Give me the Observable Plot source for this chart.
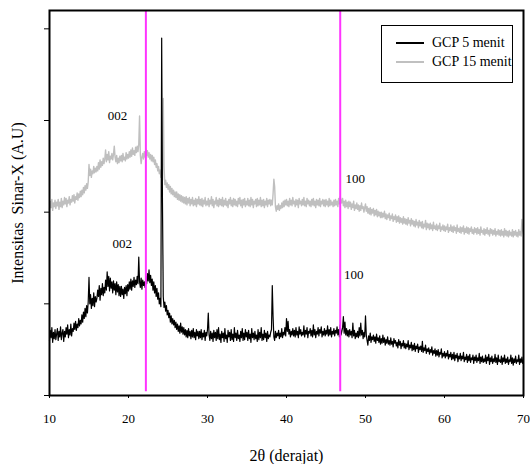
<!DOCTYPE html>
<html>
<head>
<meta charset="utf-8">
<script src="https://cdn.jsdelivr.net/npm/d3@7"></script>
<script src="https://cdn.jsdelivr.net/npm/@observablehq/plot@0.6"></script>
<style>
  html, body { margin: 0; padding: 0; background: #fff; font-family: "Liberation Serif", "Times New Roman", Times, serif; }
  #wrap { position: relative; width: 530px; height: 464px; }
  svg text, svg { font-family: "Liberation Serif", "Times New Roman", Times, serif !important; }
  #legend { position: absolute; left: 381px; top: 25px; width: 130px; height: 56px; border: 1px solid #000; background: #fff; }
  .row { position: absolute; left: 0; height: 18px; display: flex; align-items: center; font-size: 14px; color: #000; white-space: nowrap; }
  .sw { display: inline-block; width: 28px; height: 0; margin-left: 14px; margin-right: 8px; }
</style>
</head>
<body>
<div id="wrap">
  <div id="chart"></div>
  <div id="legend">
    <div class="row" style="top:8px"><span class="sw" style="border-top:2px solid #000"></span>GCP 5 menit</div>
    <div class="row" style="top:27px"><span class="sw" style="border-top:2px solid #c0c0c0"></span>GCP 15 menit</div>
  </div>
</div>
<script>
// 2θ from 10 to 70 degrees, sampled every 0.1 degree
const angleStart = 10;
const angleStep = 0.1;

// GCP 5 menit (black), intensity in arbitrary units
const gcp5 = [
  0.60,0.71,0.63,0.74,0.58,0.69,0.62,0.72,0.61,0.67,
  0.73,0.60,0.70,0.64,0.75,0.61,0.68,0.72,0.59,0.70,
  0.64,0.74,0.67,0.77,0.63,0.72,0.66,0.78,0.65,0.73,
  0.70,0.79,0.72,0.81,0.71,0.78,0.74,0.84,0.76,0.82,
  0.78,0.88,0.80,0.91,0.84,0.95,0.86,0.98,0.90,1.02,
  1.29,1.00,1.10,0.95,1.06,0.98,1.12,0.97,1.08,1.02,
  1.06,1.15,1.08,1.20,1.04,1.17,1.10,1.22,1.09,1.18,
  1.12,1.26,1.15,1.35,1.19,1.30,1.14,1.28,1.17,1.24,
  1.12,1.25,1.15,1.22,1.10,1.24,1.13,1.21,1.09,1.19,
  1.08,1.19,1.10,1.16,1.06,1.18,1.11,1.20,1.09,1.21,
  1.14,1.24,1.16,1.27,1.15,1.25,1.19,1.29,1.18,1.26,
  1.21,1.30,1.22,1.51,1.24,1.18,1.28,1.16,1.26,1.20,
  1.24,1.18,1.30,1.22,1.33,1.25,1.37,1.23,1.31,1.20,
  1.27,1.15,1.24,1.12,1.20,1.08,1.17,1.05,1.12,1.00,
  1.06,0.97,3.90,2.10,1.08,0.96,1.02,0.92,0.98,0.88,
  0.93,0.85,0.90,0.80,0.87,0.78,0.84,0.77,0.82,0.74,
  0.80,0.72,0.78,0.70,0.76,0.68,0.79,0.69,0.75,0.67,
  0.74,0.66,0.72,0.64,0.71,0.63,0.73,0.65,0.70,0.62,
  0.71,0.64,0.73,0.63,0.69,0.61,0.72,0.65,0.70,0.62,
  0.70,0.63,0.72,0.61,0.68,0.64,0.71,0.60,0.69,0.65,
  0.72,0.90,0.66,0.60,0.70,0.62,0.68,0.59,0.71,0.63,
  0.69,0.60,0.72,0.62,0.74,0.61,0.67,0.58,0.70,0.63,
  0.68,0.59,0.73,0.62,0.66,0.58,0.71,0.64,0.69,0.60,
  0.72,0.61,0.67,0.59,0.74,0.63,0.68,0.60,0.71,0.62,
  0.66,0.59,0.70,0.63,0.73,0.60,0.68,0.61,0.72,0.64,
  0.69,0.60,0.71,0.62,0.67,0.58,0.73,0.63,0.68,0.61,
  0.70,0.62,0.66,0.59,0.72,0.61,0.69,0.63,0.74,0.60,
  0.67,0.61,0.71,0.63,0.68,0.59,0.70,0.62,0.66,0.64,
  0.69,0.72,1.20,0.86,0.64,0.60,0.70,0.63,0.68,0.65,
  0.71,0.62,0.68,0.64,0.73,0.63,0.69,0.66,0.74,0.65,
  0.84,0.70,0.81,0.67,0.72,0.64,0.70,0.66,0.73,0.65,
  0.71,0.64,0.74,0.66,0.70,0.63,0.75,0.67,0.72,0.65,
  0.69,0.66,0.76,0.64,0.71,0.67,0.74,0.63,0.70,0.68,
  0.73,0.65,0.71,0.64,0.77,0.66,0.72,0.63,0.70,0.67,
  0.74,0.65,0.72,0.68,0.75,0.64,0.70,0.66,0.73,0.65,
  0.71,0.67,0.76,0.65,0.72,0.66,0.74,0.64,0.70,0.67,
  0.73,0.65,0.71,0.68,0.75,0.66,0.72,0.64,0.77,0.66,
  0.70,0.74,0.86,0.68,0.80,0.66,0.73,0.65,0.71,0.64,
  0.72,0.66,0.70,0.63,0.79,0.65,0.71,0.62,0.68,0.64,
  0.70,0.63,0.74,0.65,0.79,0.66,0.71,0.62,0.69,0.64,
  0.87,0.66,0.60,0.55,0.65,0.60,0.68,0.58,0.64,0.61,
  0.66,0.59,0.64,0.57,0.67,0.60,0.63,0.58,0.65,0.56,
  0.62,0.57,0.66,0.58,0.63,0.55,0.61,0.57,0.64,0.56,
  0.60,0.55,0.63,0.56,0.59,0.53,0.62,0.57,0.60,0.54,
  0.58,0.52,0.61,0.55,0.59,0.51,0.57,0.54,0.60,0.52,
  0.57,0.51,0.56,0.53,0.60,0.50,0.55,0.52,0.58,0.49,
  0.55,0.50,0.57,0.48,0.54,0.51,0.56,0.47,0.53,0.50,
  0.54,0.48,0.59,0.47,0.52,0.49,0.55,0.46,0.51,0.48,
  0.52,0.45,0.50,0.47,0.53,0.44,0.49,0.46,0.51,0.43,
  0.49,0.44,0.50,0.42,0.47,0.45,0.51,0.41,0.46,0.43,
  0.48,0.41,0.46,0.43,0.49,0.40,0.45,0.42,0.47,0.39,
  0.45,0.40,0.47,0.38,0.44,0.41,0.46,0.37,0.43,0.40,
  0.46,0.38,0.43,0.40,0.47,0.37,0.42,0.39,0.45,0.36,
  0.43,0.38,0.45,0.36,0.41,0.39,0.44,0.35,0.42,0.38,
  0.44,0.36,0.41,0.38,0.46,0.35,0.42,0.37,0.43,0.36,
  0.40,0.37,0.44,0.35,0.42,0.38,0.45,0.34,0.41,0.37,
  0.43,0.35,0.40,0.37,0.45,0.36,0.41,0.34,0.44,0.37,
  0.39,0.36,0.43,0.34,0.41,0.37,0.44,0.35,0.40,0.36,
  0.42,0.34,0.39,0.37,0.44,0.35,0.41,0.33,0.40,0.36,
  0.43,0.35,0.39,0.37,0.44,0.34,0.40,0.36,0.42,0.35,
  0.39
];

// GCP 15 menit (grey)
const gcp15 = [
  2.03,2.12,2.05,2.14,2.02,2.10,2.06,2.13,2.04,2.11,
  2.07,2.14,2.03,2.11,2.06,2.15,2.05,2.12,2.08,2.16,
  2.09,2.15,2.06,2.13,2.10,2.17,2.08,2.14,2.11,2.18,
  2.12,2.19,2.10,2.17,2.14,2.21,2.13,2.20,2.16,2.23,
  2.17,2.24,2.19,2.27,2.21,2.29,2.24,2.31,2.26,2.33,
  2.52,2.40,2.47,2.38,2.45,2.42,2.50,2.43,2.48,2.44,
  2.50,2.45,2.54,2.47,2.57,2.49,2.55,2.51,2.59,2.53,
  2.58,2.68,2.55,2.63,2.57,2.66,2.54,2.61,2.58,2.64,
  2.57,2.63,2.72,2.60,2.55,2.62,2.53,2.59,2.54,2.61,
  2.56,2.62,2.55,2.64,2.57,2.60,2.56,2.65,2.58,2.63,
  2.59,2.66,2.60,2.68,2.61,2.70,2.63,2.67,2.62,2.71,
  2.65,2.72,2.66,2.74,3.05,2.62,2.53,2.60,2.64,2.58,
  2.66,2.60,2.69,2.62,2.67,2.60,2.65,2.58,2.63,2.56,
  2.62,2.55,2.60,2.52,2.57,2.49,2.53,2.45,2.50,2.42,
  2.46,2.38,2.42,2.35,3.24,2.50,2.30,2.35,2.27,2.32,
  2.25,2.30,2.22,2.28,2.20,2.26,2.19,2.24,2.17,2.22,
  2.16,2.22,2.14,2.20,2.13,2.19,2.12,2.18,2.11,2.17,
  2.10,2.16,2.09,2.17,2.08,2.15,2.10,2.16,2.07,2.14,
  2.09,2.16,2.07,2.13,2.08,2.15,2.06,2.14,2.09,2.17,
  2.08,2.14,2.07,2.15,2.06,2.13,2.09,2.16,2.07,2.12,
  2.08,2.15,2.06,2.13,2.09,2.17,2.07,2.14,2.05,2.12,
  2.09,2.16,2.07,2.13,2.06,2.15,2.08,2.14,2.07,2.16,
  2.06,2.13,2.08,2.15,2.07,2.12,2.05,2.14,2.09,2.16,
  2.07,2.13,2.06,2.15,2.08,2.14,2.07,2.12,2.06,2.15,
  2.09,2.16,2.07,2.13,2.05,2.14,2.08,2.15,2.06,2.12,
  2.08,2.15,2.07,2.13,2.06,2.16,2.08,2.14,2.05,2.12,
  2.09,2.14,2.06,2.15,2.07,2.13,2.08,2.16,2.06,2.13,
  2.07,2.14,2.05,2.12,2.08,2.15,2.06,2.13,2.09,2.14,
  2.07,2.13,2.08,2.20,2.36,2.28,2.06,2.01,2.07,2.03,
  2.09,2.02,2.07,2.04,2.10,2.05,2.12,2.06,2.13,2.08,
  2.14,2.07,2.12,2.06,2.15,2.08,2.13,2.07,2.16,2.09,
  2.12,2.06,2.14,2.08,2.13,2.05,2.15,2.09,2.12,2.07,
  2.14,2.08,2.16,2.07,2.12,2.06,2.15,2.09,2.13,2.07,
  2.12,2.06,2.14,2.08,2.15,2.07,2.12,2.05,2.14,2.08,
  2.13,2.07,2.15,2.06,2.12,2.09,2.14,2.07,2.13,2.06,
  2.14,2.08,2.12,2.06,2.15,2.07,2.13,2.08,2.11,2.06,
  2.13,2.07,2.14,2.08,2.12,2.06,2.15,2.09,2.17,2.13,
  2.10,2.15,2.07,2.12,2.05,2.13,2.06,2.11,2.04,2.12,
  2.06,2.11,2.03,2.09,2.05,2.12,2.02,2.08,2.04,2.10,
  2.03,2.08,2.01,2.07,2.02,2.10,2.04,2.06,2.00,2.05,
  2.09,2.01,2.06,1.99,2.04,1.98,2.05,1.97,2.03,1.99,
  2.04,1.96,2.02,1.97,2.03,1.95,2.01,1.96,2.00,1.94,
  2.00,1.94,1.99,1.95,2.01,1.93,1.98,1.92,1.97,1.94,
  1.99,1.91,1.96,1.93,1.98,1.90,1.95,1.92,1.97,1.89,
  1.95,1.90,1.96,1.88,1.94,1.89,1.93,1.87,1.95,1.88,
  1.93,1.87,1.92,1.86,1.94,1.88,1.91,1.85,1.93,1.87,
  1.91,1.85,1.90,1.84,1.92,1.86,1.89,1.83,1.91,1.85,
  1.89,1.83,1.90,1.82,1.87,1.84,1.91,1.81,1.88,1.83,
  1.87,1.81,1.88,1.82,1.86,1.80,1.89,1.82,1.85,1.81,
  1.87,1.80,1.85,1.82,1.88,1.79,1.84,1.81,1.86,1.80,
  1.85,1.79,1.84,1.81,1.87,1.78,1.83,1.80,1.86,1.79,
  1.84,1.78,1.85,1.80,1.83,1.77,1.86,1.79,1.82,1.78,
  1.84,1.77,1.83,1.79,1.85,1.76,1.82,1.78,1.84,1.77,
  1.83,1.76,1.82,1.79,1.84,1.77,1.81,1.76,1.83,1.78,
  1.82,1.76,1.83,1.77,1.81,1.75,1.84,1.78,1.80,1.76,
  1.82,1.75,1.81,1.77,1.83,1.76,1.80,1.74,1.82,1.77,
  1.81,1.75,1.80,1.76,1.82,1.74,1.79,1.76,1.81,1.75,
  1.80,1.74,1.81,1.75,1.79,1.73,1.82,1.75,1.80,1.74,
  1.79,1.73,1.80,1.75,1.78,1.74,1.81,1.73,1.79,1.75,
  1.80,1.74,1.78,1.73,1.81,1.75,1.79,1.74,1.92,1.80,
  1.76
];

// reference lines (2θ)
const refLines = [22.2, 46.8];
// peak labels
const labelText = ["002", "002", "100", "100"];
const labelX = [18.6, 19.2, 48.7, 48.5];
const labelY = [3.05, 1.65, 2.36, 1.32];

const xTicks = [10, 20, 30, 40, 50, 60, 70];
const yTicks = [0, 1, 2, 3, 4];

const toRows = (vals) => vals.map((v, i) => ({x: +(angleStart + i * angleStep).toFixed(1), y: v}));
const rows5 = toRows(gcp5);
const rows15 = toRows(gcp15);
const labels = labelText.map((t, i) => ({t, x: labelX[i], y: labelY[i]}));

const serif = "'Liberation Serif', 'Times New Roman', Times, serif";
const chart = Plot.plot({
  width: 530,
  height: 464,
  marginLeft: 49,
  marginRight: 7,
  marginTop: 10,
  marginBottom: 69,
  style: {fontFamily: serif, fontSize: "13px", color: "#000", background: "#fff"},
  x: {domain: [10, 70]},
  y: {domain: [0, 4.2]},
  marks: [
    Plot.line(rows15, {x: "x", y: "y", stroke: "#bfbfbf", strokeWidth: 1.4}),
    Plot.line(rows5, {x: "x", y: "y", stroke: "#000", strokeWidth: 1.2}),
    Plot.ruleX(refLines, {y1: 0.04, y2: 4.2, stroke: "#ff33ff", strokeWidth: 2}),
    Plot.text(labels, {x: "x", y: "y", text: "t", fontSize: 13, fill: "#000", fontFamily: serif}),
    Plot.frame({stroke: "#000", strokeWidth: 2}),
    Plot.axisX({ticks: xTicks, tickSize: 3, tickPadding: 15, tickFormat: d => String(d), label: null, fontSize: 13, fontFamily: serif}),
    Plot.axisY({ticks: yTicks, tickSize: 5, tickFormat: () => "", label: null}),
    Plot.text(["2θ (derajat)"], {frameAnchor: "bottom", dy: 65, fontSize: 16, fill: "#000", fontFamily: serif}),
    Plot.text(["Intensitas  Sinar-X (A.U)"], {frameAnchor: "left", textAnchor: "middle", dx: -32, rotate: -90, fontSize: 16, fill: "#000", fontFamily: serif})
  ]
});
document.getElementById("chart").appendChild(chart);
</script>
</body>
</html>
